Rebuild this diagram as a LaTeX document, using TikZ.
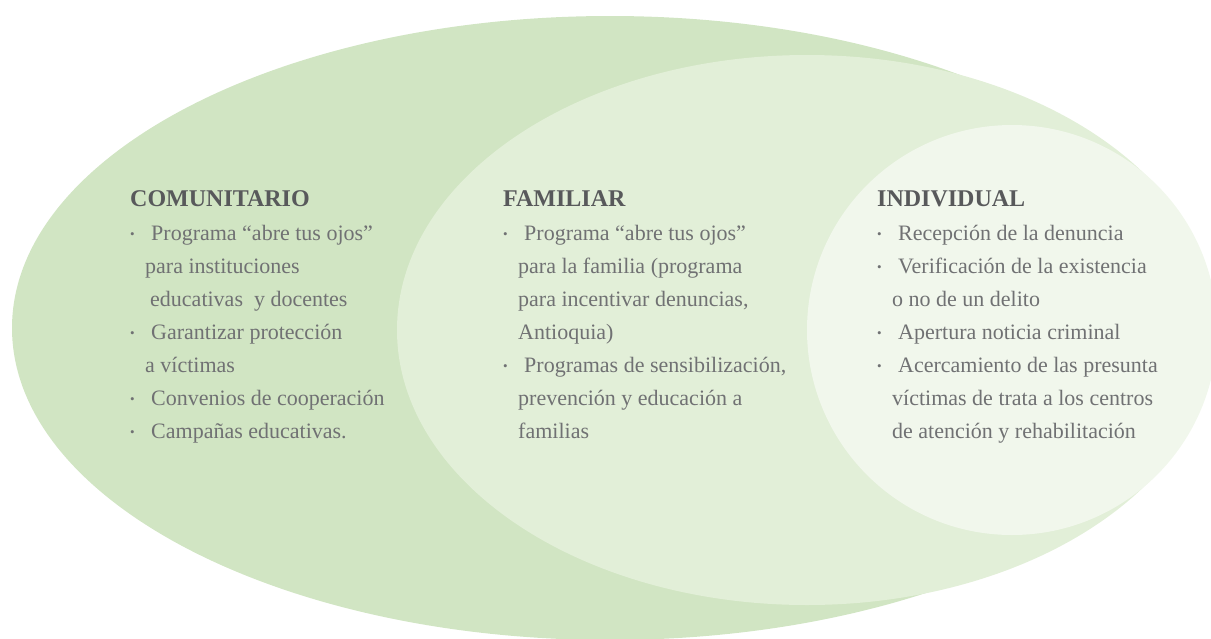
\documentclass[tikz,border=0pt]{standalone}
\usepackage{fontspec}
\setmainfont{Liberation Serif}
\usetikzlibrary{positioning}

\definecolor{verdeA}{HTML}{D1E5C3}
\definecolor{verdeB}{HTML}{E2EFD8}
\definecolor{verdeC}{HTML}{F1F7EC}
\definecolor{grisT}{HTML}{58595B}
\definecolor{grisL}{HTML}{707173}

\newcommand{\vineta}[1]{\makebox[21pt][l]{\raisebox{1.5pt}{\fontsize{13}{13}\selectfont\textbullet}}#1}
\newcommand{\sigue}[2][15pt]{\hspace*{#1}#2}

% base anchor of a list is the baseline of its last line
\tikzset{
  titulo/.style={anchor=base west, inner sep=0pt, text=grisT, font=\fontsize{24}{27}\selectfont\bfseries},
  lista/.style={anchor=base west, inner sep=0pt, align=left, text=grisL, font=\fontsize{22}{33}\selectfont},
}

\begin{document}
\begin{tikzpicture}[x=1pt,y=-1pt]

        \pgfmathsetmacro{\rxA}{598};
        \pgfmathsetmacro{\ryA}{312};
        \pgfmathsetmacro{\rxB}{410};
        \pgfmathsetmacro{\ryB}{275};
        \pgfmathsetmacro{\rC}{205};

        \useasboundingbox (0,0) rectangle (1211,638);
        \clip (0,0) rectangle (1211,638);

        \fill [verdeA] (610,328) ellipse [x radius=\rxA, y radius=\ryA];
        \fill [verdeB] (807,330) ellipse [x radius=\rxB, y radius=\ryB];
        \fill [verdeC] (1012,330) ellipse [x radius=\rC, y radius=\rC];

        \node (comTit) at (130,206) [titulo] {COMUNITARIO};
        \node (comLista) at (130,438) [lista] {\vineta{Programa “abre tus ojos”}\\
            \sigue{para instituciones}\\
            \sigue[20pt]{educativas\ \ y docentes}\\
            \vineta{Garantizar protección}\\
            \sigue{a víctimas}\\
            \vineta{Convenios de cooperación}\\
            \vineta{Campañas educativas.}};

        \node (famTit) at (503,206) [titulo] {FAMILIAR};
        \node (famLista) at (503,438) [lista] {\vineta{Programa “abre tus ojos”}\\
            \sigue{para la familia (programa}\\
            \sigue{para incentivar denuncias,}\\
            \sigue{Antioquia)}\\
            \vineta{Programas de sensibilización,}\\
            \sigue{prevención y educación a}\\
            \sigue{familias}};

        \node (indTit) at (877,206) [titulo] {INDIVIDUAL};
        \node (indLista) at (877,438) [lista] {\vineta{Recepción de la denuncia}\\
            \vineta{Verificación de la existencia}\\
            \sigue{o no de un delito}\\
            \vineta{Apertura noticia criminal}\\
            \vineta{Acercamiento de las presunta}\\
            \sigue{víctimas de trata a los centros}\\
            \sigue{de atención y rehabilitación}};

\end{tikzpicture}
\end{document}
